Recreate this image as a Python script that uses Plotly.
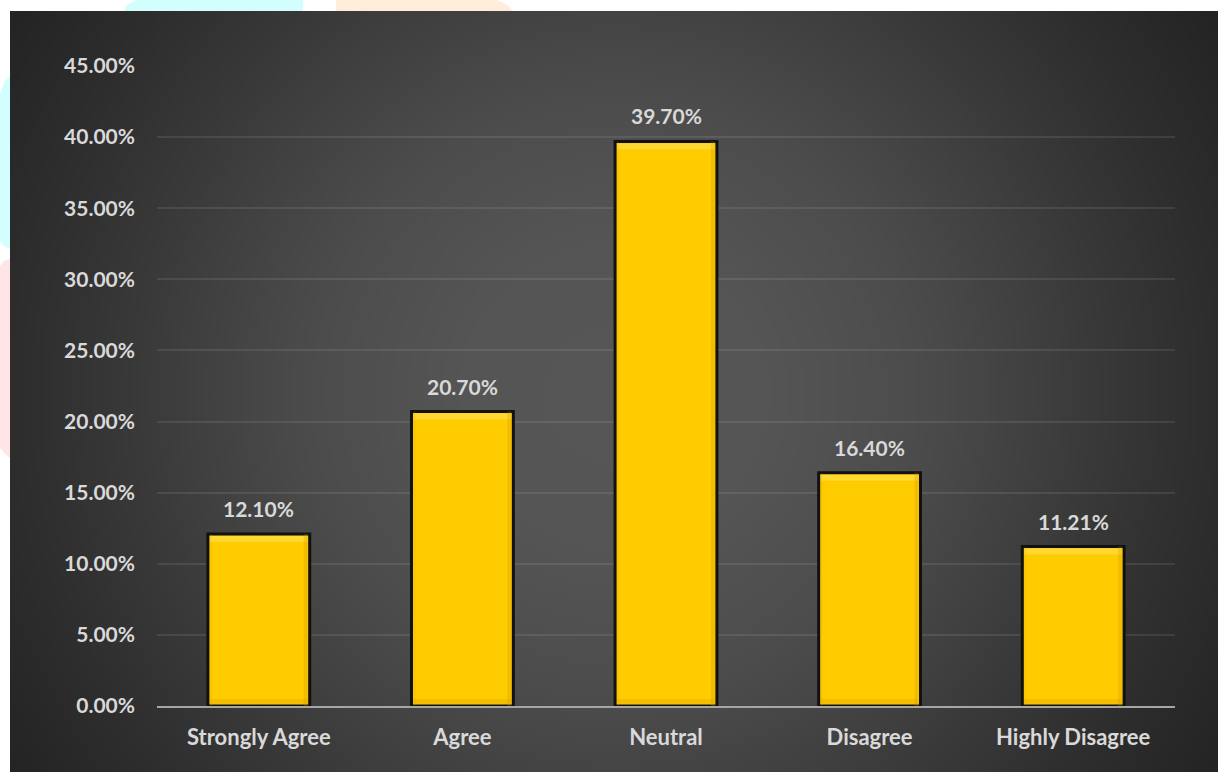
import base64
import struct
import zlib

import numpy as np
import plotly.graph_objects as go

# ---- data -------------------------------------------------------------
categories = ["Strongly Agree", "Agree", "Neutral", "Disagree", "Highly Disagree"]
shares = [12.10, 20.70, 39.70, 16.40, 11.21]
y_ticks = [0, 5, 10, 15, 20, 25, 30, 35, 40, 45]

# ---- page geometry (pixels) -------------------------------------------
W, H = 1218, 772
ML, MR, MT, MB = 157, 43, 66, 66
PW, PH = W - ML - MR, H - MT - MB


def px_x(px):
    return (px - ML) / PW


def px_y(py):
    return (H - MB - py) / PH


# ---- dark radial-gradient panel rendered as a small grayscale PNG ------
def gray_png(arr):
    h, w = arr.shape
    raw = b"".join(b"\x00" + arr[r].tobytes() for r in range(h))

    def chunk(tag, data):
        c = struct.pack(">I", len(data)) + tag + data
        return c + struct.pack(">I", zlib.crc32(tag + data) & 0xFFFFFFFF)

    return (b"\x89PNG\r\n\x1a\n"
            + chunk(b"IHDR", struct.pack(">IIBBBBB", w, h, 8, 0, 0, 0, 0))
            + chunk(b"IDAT", zlib.compress(raw, 9))
            + chunk(b"IEND", b""))


PANEL_X0, PANEL_Y0 = 10, 11
panel_w, panel_h = W - PANEL_X0, H - PANEL_Y0
scale = 4
gw, gh = panel_w // scale, panel_h // scale
gx = PANEL_X0 + (np.arange(gw) + 0.5) * scale
gy = PANEL_Y0 + (np.arange(gh) + 0.5) * scale
XX, YY = np.meshgrid(gx, gy)
dist = np.hypot(XX - 615, YY - 395)
stop_d = [0, 150, 300, 380, 500, 600, 720, 800]
stop_v = [86, 85, 76, 68, 55, 45, 35, 33]
shade = np.interp(dist, stop_d, stop_v).round().astype(np.uint8)
panel_src = "data:image/png;base64," + base64.b64encode(gray_png(shade)).decode()

fig = go.Figure()

fig.add_trace(go.Bar(
    x=categories,
    y=shares,
    width=0.5,
    marker=dict(color="#FFCC00", line=dict(color="#111111", width=3)),
    hoverinfo="skip",
))

FONT = "Lato, 'Open Sans', sans-serif"
label_font = dict(family=FONT, size=21, color="#D9D9D9", weight="bold")
cat_font = dict(family=FONT, size=22, color="#D9D9D9", weight="bold")

# value labels above each bar
for cat, v in zip(categories, shares):
    fig.add_annotation(
        x=cat, y=v, text=f"{v:.2f}%", showarrow=False,
        yanchor="bottom", yshift=11, font=label_font,
    )

# bevel highlights / shadows on each bar
shapes = []
for i, v in enumerate(shares):
    shapes.append(dict(type="rect", xref="x", yref="y", x0=i - 0.24, x1=i + 0.24,
                       ysizemode="pixel", yanchor=v, y0=-8, y1=-2,
                       fillcolor="rgba(255,232,110,0.45)", line=dict(width=0)))
    shapes.append(dict(type="rect", xref="x", yref="y", x0=i - 0.24, x1=i + 0.24,
                       ysizemode="pixel", yanchor=0, y0=2, y1=7,
                       fillcolor="rgba(205,145,0,0.22)", line=dict(width=0)))
    shapes.append(dict(type="rect", xref="x", yref="y", xsizemode="pixel",
                       xanchor=i + 0.25, x0=-6, x1=-2, y0=0, y1=v,
                       fillcolor="rgba(205,145,0,0.25)", line=dict(width=0)))
    shapes.append(dict(type="rect", xref="x", yref="y", xsizemode="pixel",
                       xanchor=i - 0.25, x0=2, x1=4, y0=0, y1=v,
                       fillcolor="rgba(205,145,0,0.12)", line=dict(width=0)))


# pale decorative patches in the page margin
def margin_patch(points, color):
    path = "M " + " L ".join(f"{px_x(a):.5f},{px_y(b):.5f}" for a, b in points) + " Z"
    return dict(type="path", xref="paper", yref="paper", path=path,
                fillcolor=color, line=dict(width=0), layer="below")


shapes += [
    margin_patch([(124, 11), (127, 5), (136, 0), (303, 0), (303, 11)], "#D3FEFE"),
    margin_patch([(336, 0), (497, 0), (506, 4), (513, 11), (336, 11)], "#FFEDDC"),
    margin_patch([(0, 94), (4, 82), (10, 76), (10, 249), (4, 246), (0, 241)], "#D3FEFE"),
    margin_patch([(0, 266), (4, 261), (10, 259), (10, 458), (4, 453), (0, 448)], "#FFE5E5"),
]

fig.update_layout(
    width=W, height=H,
    margin=dict(l=ML, r=MR, t=MT, b=MB),
    paper_bgcolor="#FFFFFF",
    plot_bgcolor="rgba(0,0,0,0)",
    showlegend=False,
    bargap=0.5,
    shapes=shapes,
    images=[dict(
        source=panel_src, xref="paper", yref="paper",
        x=px_x(PANEL_X0), y=px_y(PANEL_Y0),
        sizex=panel_w / PW, sizey=panel_h / PH,
        xanchor="left", yanchor="top", sizing="stretch", layer="below",
    )],
    xaxis=dict(
        showgrid=False, showline=True, linecolor="#A6A6A6", linewidth=2,
        ticks="", tickfont=cat_font, ticklabelstandoff=11,
        fixedrange=True,
    ),
    yaxis=dict(
        range=[0, 45], tickvals=y_ticks,
        ticktext=[f"{t:.2f}%" for t in y_ticks],
        showgrid=True, gridcolor="rgba(255,255,255,0.09)", gridwidth=2,
        zeroline=False, showline=False, ticks="",
        tickfont=label_font, ticklabelstandoff=21, fixedrange=True,
    ),
)

fig.write_html("out.html")
